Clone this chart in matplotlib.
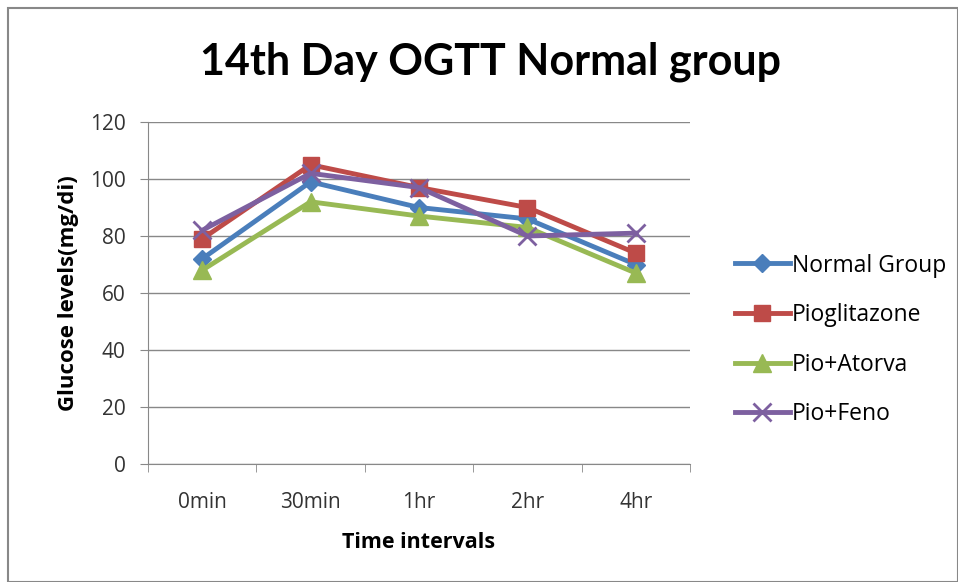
import numpy as np
import matplotlib.pyplot as plt
from matplotlib.patches import Rectangle

# data
times = ['0min', '30min', '1hr', '2hr', '4hr']
normal = [72, 99, 90, 86, 70]
pio = [79, 105, 97, 90, 74]
pio_atorva = [68, 92, 87, 83, 67]
pio_feno = [82, 102, 97, 80, 81]

plt.rcParams['font.family'] = ['Open Sans', 'DejaVu Sans']

fig = plt.figure(figsize=(9.58, 5.82), dpi=100)
W, H = 958, 582
ax = fig.add_axes([148 / W, 1 - 464 / H, (690 - 148) / W, (464 - 122) / H])

x = np.arange(len(times))
ax.plot(x, normal, color='#4a7ebb', lw=3.5, marker='D', ms=9, label='Normal Group')
ax.plot(x, pio, color='#be4b48', lw=3.5, marker='s', ms=12, label='Pioglitazone')
ax.plot(x, pio_atorva, color='#98b954', lw=3.5, marker='^', ms=13, label='Pio+Atorva')
ax.plot(x, pio_feno, color='#7d60a0', lw=3.5, marker='x', ms=13, mew=2, label='Pio+Feno')

ax.set_xlim(-0.5, len(times) - 0.5)
ax.set_ylim(0, 120)
ax.set_yticks(range(0, 121, 20))
ax.yaxis.grid(True, color='#888888', lw=1)
ax.set_axisbelow(True)
ax.set_xticks(x)
ax.set_xticklabels(times)
ax.set_xticks(np.arange(-0.5, len(times), 1), minor=True)
ax.tick_params(axis='x', which='major', length=0, pad=20, labelsize=15, labelcolor='#333333')
ax.tick_params(axis='x', which='minor', length=6, color='#888888')
ax.tick_params(axis='y', length=6, color='#888888', labelsize=15, pad=10, labelcolor='#333333')
for s in ['top', 'right']:
    ax.spines[s].set_visible(False)
for s in ['left', 'bottom']:
    ax.spines[s].set_color('#888888')

ax.set_xlabel('Time intervals', fontsize=15.5, fontweight='bold', labelpad=14)
ax.set_ylabel('Glucose levels(mg/di)', fontsize=16, fontweight='bold', labelpad=8)
fig.text(490 / W, 1 - 62 / H, '14th Day OGTT Normal group', fontsize=31,
         fontweight='bold', ha='center', va='center', family=['Lato', 'DejaVu Sans'])

fig.legend(loc='center left', bbox_to_anchor=(714 / W, 1 - 340 / H), frameon=False,
           fontsize=16.5, handlelength=2.4, handletextpad=0.1, labelspacing=1.12)

fig.patches.append(Rectangle((8 / W, 0), 1 - 8 / W, 1 - 8 / H, transform=fig.transFigure,
                             fill=False, ec='#888888', lw=1.5))

fig.savefig('out.png', dpi=100)
